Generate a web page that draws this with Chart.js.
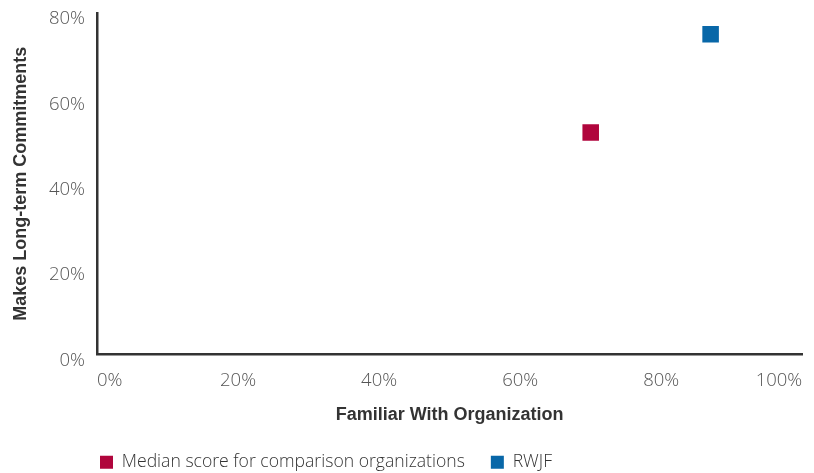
<!DOCTYPE html>
<html>
<head>
<meta charset="utf-8">
<script src="https://cdn.jsdelivr.net/npm/chart.js@4"></script>
<style>
  html, body { margin: 0; padding: 0; background: #fff; }
  #wrap { width: 814px; height: 473px; }
</style>
</head>
<body>
<div id="wrap"><canvas id="chart" width="814" height="473"></canvas></div>
<script>
// data
const seriesNames = ["Median score for comparison organizations", "RWJF"];
const familiarValues = [70, 87];     // x, %
const commitmentValues = [52, 75];   // y, %
const seriesColors = ["#B0053C", "#0867A8"];

const xTicks = [0, 20, 40, 60, 80, 100];
const yTicks = [0, 20, 40, 60, 80];

const tickFont = { family: "'Open Sans', 'Liberation Sans', Arial", size: 18.5, weight: 300 };
const titleFont = { family: "'Liberation Sans', Arial", size: 18, weight: "bold" };

// push the legend so it starts under the plot area, like the original
const legendShift = {
    id: "legendShift",
    afterLayout(chart) {
        const lg = chart.legend;
        const dx = chart.chartArea.left - lg.left - lg.options.labels.padding + 3;
        lg.left += dx;
        lg.right += dx;
        if (lg.adjustHitBoxes) lg.adjustHitBoxes();
    }
};

new Chart(document.getElementById("chart"), {
    type: "scatter",
    data: {
        datasets: seriesNames.map((name, i) => ({
            label: name,
            data: [{ x: familiarValues[i], y: commitmentValues[i] }],
            backgroundColor: seriesColors[i],
            borderColor: seriesColors[i],
            pointStyle: "rect",
            pointRadius: 11.7,
            pointHoverRadius: 11.7,
            borderWidth: 0
        }))
    },
    plugins: [legendShift],
    options: {
        responsive: false,
        animation: false,
        layout: { padding: { top: 13, right: 1, left: 0, bottom: -8 } },
        plugins: {
            legend: {
                position: "bottom",
                align: "start",
                labels: {
                    usePointStyle: true,
                    pointStyle: "rect",
                    boxWidth: 13,
                    boxHeight: 13,
                    padding: 26,
                    color: "#333",
                    font: { family: "'Open Sans', 'Liberation Sans', Arial", size: 17.6, weight: 300 }
                }
            },
            tooltip: { enabled: false }
        },
        scales: {
            x: {
                type: "linear",
                min: 0,
                max: 100,
                afterBuildTicks: (s) => { s.ticks = xTicks.map(v => ({ value: v })); },
                afterFit: (s) => { s.paddingRight = 0; s.paddingLeft = 0; },
                grid: { display: false, drawTicks: false },
                border: { display: true, color: "#333", width: 2.5 },
                ticks: {
                    align: "inner",
                    padding: 15,
                    color: "#555",
                    font: tickFont,
                    callback: (v) => v + "%"
                },
                title: {
                    display: true,
                    text: "Familiar With Organization",
                    color: "#333",
                    font: titleFont,
                    padding: { top: -3, bottom: 2 }
                }
            },
            y: {
                type: "linear",
                min: 0,
                max: 80,
                afterBuildTicks: (s) => { s.ticks = yTicks.map(v => ({ value: v })); },
                afterFit: (s) => { s.width = 97; s.paddingTop = 0; s.paddingBottom = 0; },
                grid: { display: false, drawTicks: false },
                border: { display: true, color: "#333", width: 2.5 },
                ticks: {
                    padding: 12,
                    labelOffset: 6,
                    color: "#555",
                    font: tickFont,
                    callback: (v) => v + "%"
                },
                title: {
                    display: true,
                    text: "Makes Long-term Commitments",
                    color: "#333",
                    font: titleFont,
                    padding: { top: 10, bottom: 0 }
                }
            }
        }
    }
});
</script>
</body>
</html>
